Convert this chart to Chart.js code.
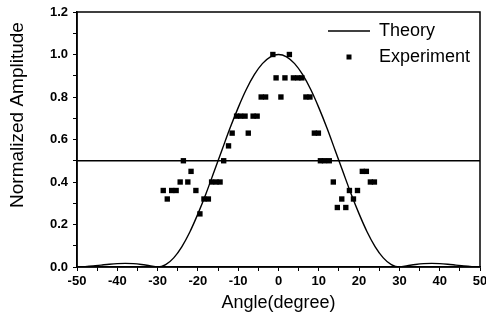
<!DOCTYPE html>
<html>
<head>
<meta charset="utf-8">
<script src="https://cdn.jsdelivr.net/npm/chart.js@4.4.0/dist/chart.umd.min.js"></script>
<style>
  html, body { margin: 0; padding: 0; background: #fff; }
  canvas { display: block; }
</style>
</head>
<body>
<canvas id="chart" width="486" height="322"></canvas>
<script>
// theory curve, every 2 degrees
const theoryX = [-50, -48, -46, -44, -42, -40, -38, -36, -34, -32, -30, -28, -26, -24, -22, -20, -18, -16, -14, -12, -10, -8, -6, -4, -2,
  0, 2, 4, 6, 8, 10, 12, 14, 16, 18, 20, 22, 24, 26, 28, 30, 32, 34, 36, 38, 40, 42, 44, 46, 48, 50];
const theoryY = [0.000, 0.002, 0.005, 0.009, 0.013, 0.016, 0.017, 0.016, 0.012, 0.006, 0.000, 0.011, 0.043, 0.095, 0.165, 0.25, 0.345, 0.448, 0.552, 0.655, 0.75, 0.835, 0.905, 0.957, 0.989,
  1.0, 0.989, 0.957, 0.905, 0.835, 0.75, 0.655, 0.552, 0.448, 0.345, 0.25, 0.165, 0.095, 0.043, 0.011, 0.000, 0.006, 0.012, 0.016, 0.017, 0.016, 0.013, 0.009, 0.005, 0.002, 0.000];

// measured points
const expX = [-28.6, -27.6, -26.5, -25.4, -24.4, -23.6, -22.5, -21.7, -20.5, -19.5, -18.5, -17.4, -16.6, -15.5, -14.5, -13.6, -12.4, -11.5,
  -10.4, -9.4, -8.3, -7.5, -6.3, -5.3, -4.3, -3.2, -1.4, -0.6, 0.6, 1.6, 2.7, 3.7, 4.8, 5.8, 6.8, 7.8, 8.9, 9.9,
  10.4, 11.4, 12.6, 13.6, 14.6, 15.7, 16.7, 17.6, 18.6, 19.6, 20.8, 21.8, 22.8, 23.8];
const expY = [0.36, 0.32, 0.36, 0.36, 0.40, 0.50, 0.40, 0.45, 0.36, 0.25, 0.32, 0.32, 0.40, 0.40, 0.40, 0.50, 0.57, 0.63,
  0.71, 0.71, 0.71, 0.63, 0.71, 0.71, 0.80, 0.80, 1.0, 0.89, 0.80, 0.89, 1.0, 0.89, 0.89, 0.89, 0.80, 0.80, 0.63, 0.63,
  0.50, 0.50, 0.50, 0.40, 0.28, 0.32, 0.28, 0.36, 0.32, 0.36, 0.45, 0.45, 0.40, 0.40];

// half amplitude level
const halfX = [-50, 50];
const halfY = [0.5, 0.5];

const FONT = "'Liberation Sans', Arial, sans-serif";

function pairs(xs, ys) {
  return xs.map((x, i) => ({ x: x, y: ys[i] }));
}

// frame, y title and legend
const decorations = {
  id: "decorations",
  afterDraw(chart) {
    const ctx = chart.ctx;
    const a = chart.chartArea;
    ctx.save();
    ctx.strokeStyle = "#000";
    ctx.lineWidth = 1.5;
    ctx.strokeRect(a.left, a.top, a.right - a.left, a.bottom - a.top);

    // y axis title
    ctx.fillStyle = "#000";
    ctx.font = "19px " + FONT;
    ctx.textAlign = "center";
    ctx.textBaseline = "middle";
    ctx.translate(18, 115);
    ctx.rotate(-Math.PI / 2);
    ctx.fillText("Normalized Amplitude", 0, 0);
    ctx.restore();

    // legend
    const ds = chart.data.datasets;
    ctx.save();
    ctx.font = "18px " + FONT;
    ctx.textAlign = "left";
    ctx.textBaseline = "middle";
    ctx.fillStyle = "#000";
    const lx = a.right - 152;
    const tx = a.right - 101;
    const y1 = a.top + 19;
    const y2 = a.top + 45;
    ctx.strokeStyle = ds[0].borderColor;
    ctx.lineWidth = ds[0].borderWidth;
    ctx.beginPath();
    ctx.moveTo(lx, y1);
    ctx.lineTo(lx + 42, y1);
    ctx.stroke();
    ctx.fillText(ds[0].label, tx, y1);
    ctx.fillStyle = ds[1].backgroundColor;
    ctx.fillRect(lx + 21 - 2.5, y2 - 2.5, 5, 5);
    ctx.fillStyle = "#000";
    ctx.fillText(ds[1].label, tx, y2);
    ctx.restore();
  }
};

new Chart(document.getElementById("chart"), {
  type: "scatter",
  data: {
    datasets: [
      {
        label: "Theory",
        data: pairs(theoryX, theoryY),
        showLine: true,
        borderColor: "#000",
        borderWidth: 1.4,
        pointRadius: 0,
        cubicInterpolationMode: "monotone"
      },
      {
        label: "Experiment",
        data: pairs(expX, expY),
        showLine: false,
        pointStyle: "rect",
        pointRadius: 3.8,
        backgroundColor: "#000",
        borderColor: "#000",
        borderWidth: 0
      },
      {
        label: "half",
        data: pairs(halfX, halfY),
        showLine: true,
        borderColor: "#000",
        borderWidth: 1.5,
        pointRadius: 0
      }
    ]
  },
  options: {
    responsive: false,
    animation: false,
    devicePixelRatio: 1,
    layout: { padding: { left: 0, right: 6, top: 12, bottom: 0 } },
    plugins: {
      legend: { display: false },
      tooltip: { enabled: false }
    },
    scales: {
      x: {
        type: "linear",
        min: -50,
        max: 50,
        afterFit(scale) {
          scale.height = 55;
          scale.paddingLeft = 0;
          scale.paddingRight = 0;
        },
        border: { display: true, color: "#000", width: 1.5 },
        grid: { drawOnChartArea: false, drawTicks: true, tickLength: 4, color: "#000" },
        ticks: {
          stepSize: 5,
          maxRotation: 0,
          autoSkip: false,
          padding: 3,
          color: "#000",
          font: { family: FONT, size: 13, weight: "bold" },
          callback: (v) => (Math.round(v) % 10 === 0 ? String(Math.round(v)) : "")
        },
        title: {
          display: true,
          text: "Angle(degree)",
          color: "#000",
          font: { family: FONT, size: 18 },
          padding: { top: 0, bottom: 8 }
        }
      },
      y: {
        min: 0,
        max: 1.2,
        afterFit(scale) {
          scale.width = 77;
          scale.paddingTop = 0;
          scale.paddingBottom = 0;
        },
        border: { display: true, color: "#000", width: 1.5 },
        grid: { drawOnChartArea: false, drawTicks: true, tickLength: 4, color: "#000" },
        ticks: {
          stepSize: 0.1,
          autoSkip: false,
          padding: 5,
          color: "#000",
          font: { family: FONT, size: 13, weight: "bold" },
          callback: (v) => (Math.round(v * 10) % 2 === 0 ? v.toFixed(1) : "")
        }
      }
    }
  },
  plugins: [decorations]
});
</script>
</body>
</html>
